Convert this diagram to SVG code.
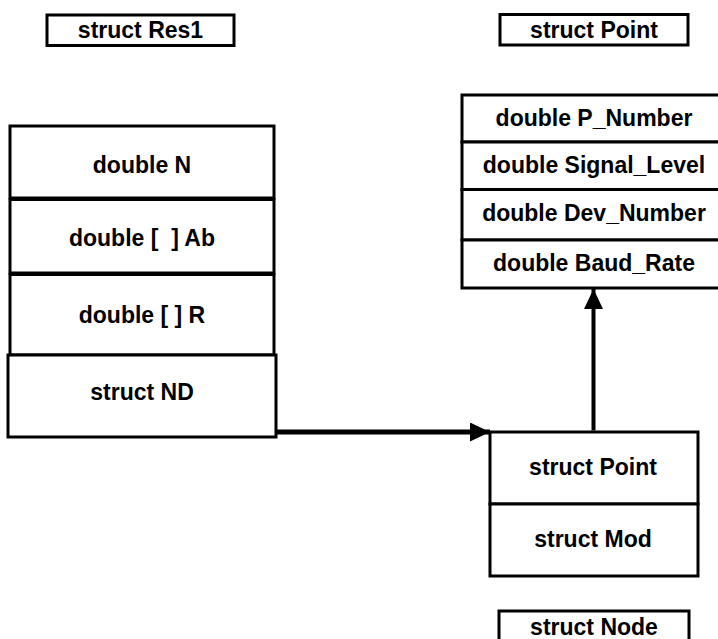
<svg xmlns="http://www.w3.org/2000/svg" width="718" height="639" viewBox="0 0 718 639">
<style>
.box{fill:#fff;stroke:#000;stroke-width:3}
.t{font-family:"Liberation Sans",Arial,sans-serif;font-weight:bold;font-size:23px;fill:#000;text-anchor:middle}
.c{fill:none;stroke:#000}
</style>
<defs>
<marker id="ah" markerUnits="userSpaceOnUse" markerWidth="22" markerHeight="20" refX="20" refY="9.5" orient="auto">
<path d="M0,0 L20,9.5 L0,19 Z" fill="#000"/>
</marker>
</defs>
<rect width="718" height="639" fill="#fff"/>
<g id="label-res1">
<rect class="box" x="47" y="15" width="187" height="30.5"/>
<text class="t" x="140.5" y="38">struct Res1</text>
</g>
<g id="label-point">
<rect class="box" x="500" y="14.5" width="188" height="30.5"/>
<text class="t" x="594" y="37.5">struct Point</text>
</g>
<g id="label-node">
<rect class="box" x="499" y="611" width="190" height="34"/>
<text class="t" x="594" y="635">struct Node</text>
</g>
<g id="res1">
<rect class="box" x="10" y="126" width="264" height="72"/>
<text class="t" x="142" y="173">double N</text>
<rect class="box" x="10" y="199.5" width="264" height="73.5"/>
<text class="t" x="142" y="246" xml:space="preserve">double [  ] Ab</text>
<rect class="box" x="10" y="274.5" width="264" height="80.5"/>
<text class="t" x="142" y="323">double [ ] R</text>
<rect class="box" x="8" y="355" width="268" height="82"/>
<text class="t" x="142" y="400">struct ND</text>
</g>
<g id="point">
<rect class="box" x="462" y="95" width="260" height="47"/>
<text class="t" x="594" y="126">double P_Number</text>
<rect class="box" x="462" y="142" width="260" height="47.5"/>
<text class="t" x="594" y="173">double Signal_Level</text>
<rect class="box" x="462" y="189.5" width="260" height="50.5"/>
<text class="t" x="594" y="221">double Dev_Number</text>
<rect class="box" x="462" y="240" width="260" height="48"/>
<text class="t" x="594" y="271">double Baud_Rate</text>
</g>
<g id="node">
<rect class="box" x="490" y="432" width="208" height="72"/>
<text class="t" x="593" y="475">struct Point</text>
<rect class="box" x="490" y="504" width="208" height="72"/>
<text class="t" x="593" y="547">struct Mod</text>
</g>
<g id="connectors">
<path class="c" d="M276,432 H490" stroke-width="5" marker-end="url(#ah)"/>
<path class="c" d="M593.5,430.5 V289" stroke-width="4" marker-end="url(#ah)"/>
</g>
</svg>
